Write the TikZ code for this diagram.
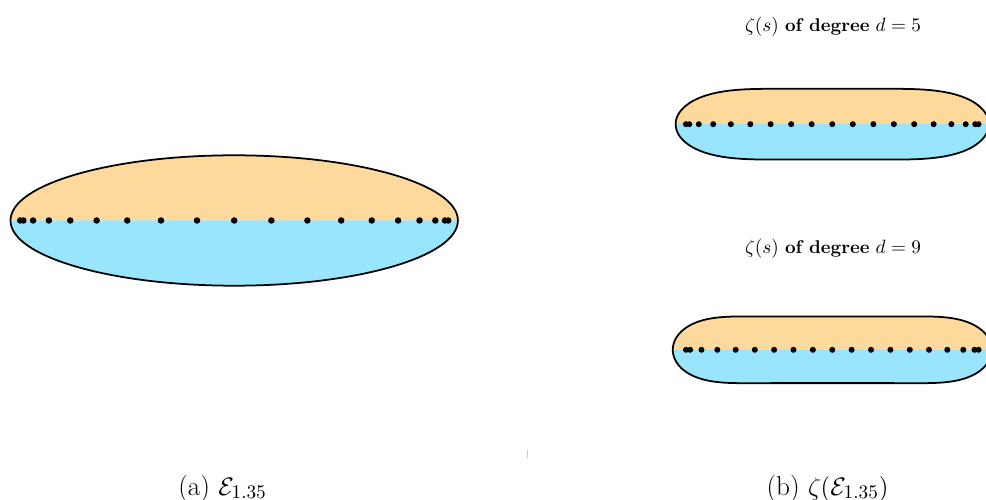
\documentclass[tikz,border=0pt]{standalone}
\usepackage{amsmath}
\usetikzlibrary{calc}
\definecolor{peach}{RGB}{253,217,155}
\definecolor{sky}{RGB}{153,229,252}
\tikzset{
  rim/.style={draw=black,line width=1pt},
  top half/.style={fill=peach},
  low half/.style={fill=sky},
  bead/.style={fill=black},
  title/.style={font=\fontsize{10.5}{12}\selectfont},
  caption/.style={font=\fontsize{15.5}{18}\selectfont,anchor=base},
  % boundary of E_rho, rho=1.35, and its image under the sausage map
  declare function={
    er(\t)=1.0454*cos(\t);
    ei(\t)=0.3046*sin(\t);
    em(\t)=sqrt(er(\t)^2+ei(\t)^2);
    ea(\t)=atan2(ei(\t),er(\t));
    sre(\t,\k)=(em(\t))^(\k)*cos(\k*ea(\t));
    sim(\t,\k)=(em(\t))^(\k)*sin(\k*ea(\t));
    gfx(\t)=(sre(\t,1)+sre(\t,3)/6+3*sre(\t,5)/40)/1.241667;
    gfy(\t)=(sim(\t,1)+sim(\t,3)/6+3*sim(\t,5)/40)/1.241667;
    gnx(\t)=(sre(\t,1)+sre(\t,3)/6+3*sre(\t,5)/40+5*sre(\t,7)/112+35*sre(\t,9)/1152)/1.316692;
    gny(\t)=(sim(\t,1)+sim(\t,3)/6+3*sim(\t,5)/40+5*sim(\t,7)/112+35*sim(\t,9)/1152)/1.316692;
    pf(\s)=\s*(1+\s*\s/6+3*\s*\s*\s*\s/40)/1.241667;
    pn(\s)=\s*(1+\s*\s/6+3*\s*\s*\s*\s/40+5*\s*\s*\s*\s*\s*\s/112+35*\s*\s*\s*\s*\s*\s*\s*\s/1152)/1.316692;
  }
}
\newcommand\ur{2.926}

\begin{document}
\begin{tikzpicture}
  \useasboundingbox (0,0) rectangle (19.72,-10);
  \clip (0,0) rectangle (19.72,-10);
  % (a) the ellipse
  \coordinate (ec) at (4.684,-4.41);
  \fill[top half] ($(ec)+(4.474,0)$) arc[start angle=0,end angle=180,x radius=4.474,y radius=1.304] -- cycle;
  \fill[low half] ($(ec)+(-4.474,0)$) arc[start angle=180,end angle=360,x radius=4.474,y radius=1.304] -- cycle;
  \draw[rim] (ec) ellipse[x radius=4.474,y radius=1.304];
  \foreach \k in {0,...,18}
    \fill[bead] ($(ec)+({4.28*cos(\k*10)},0)$) circle (0.065);
  % (b) images under zeta
  \foreach \cy/\fx/\fy/\pp/\d in {-2.484/gfx/gfy/pf/5,-6.996/gnx/gny/pn/9}{
    \begin{scope}[shift={(16.645,\cy)}]
      \fill[top half] plot[domain=0:180,samples=121] ({\ur*\fx(\x)},{\ur*\fy(\x)}) -- cycle;
      \fill[low half] plot[domain=180:360,samples=121] ({\ur*\fx(\x)},{\ur*\fy(\x)}) -- cycle;
      \draw[rim] plot[domain=0:360,samples=241] ({\ur*\fx(\x)},{\ur*\fy(\x)}) -- cycle;
      \foreach \k in {0,...,18}
        \fill[bead] ({\ur*\pp(cos(\k*10))},0) circle (0.06);
    \end{scope}
  }
  \node[title] (t5) at (16.66,-0.54) {$\zeta(s)$ \textbf{of degree} $d=5$};
  \node[title] (t9) at (16.66,-4.98) {$\zeta(s)$ \textbf{of degree} $d=9$};
  \node[caption] (ca) at (4.45,-9.9) {(a) $\mathcal{E}_{1.35}$};
  \node[caption] (cb) at (16.55,-9.9) {(b) $\zeta(\mathcal{E}_{1.35})$};
  \draw[gray!40,line width=0.4pt] (10.54,-9.0) -- (10.54,-9.16);
\end{tikzpicture}
\end{document}
